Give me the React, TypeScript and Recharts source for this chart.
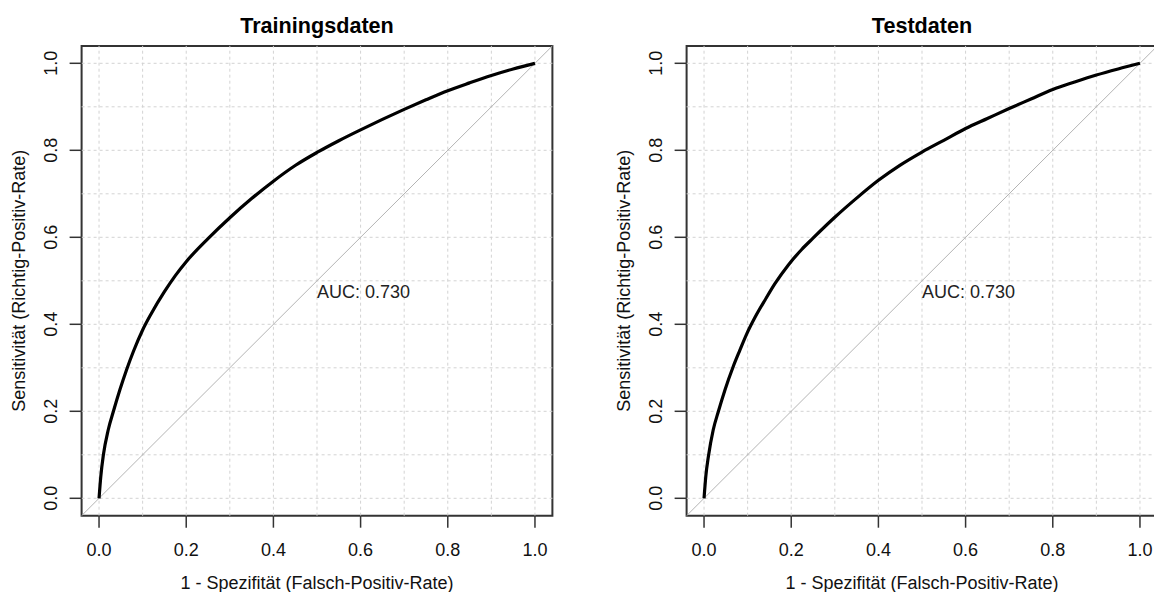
import React from "react";
import {
  LineChart,
  Line,
  XAxis,
  YAxis,
  ReferenceLine,
  ReferenceArea,
  ReferenceDot,
  Customized,
} from "recharts";

// ROC curve, training data (1 - specificity vs. sensitivity)
const trainFpr = [0, 0.004, 0.01, 0.021, 0.033, 0.048, 0.063, 0.079, 0.1, 0.12, 0.15, 0.175, 0.2, 0.25, 0.3, 0.35, 0.4, 0.45, 0.5, 0.55, 0.6, 0.65, 0.7, 0.75, 0.8, 0.85, 0.9, 0.95, 1.0];
const trainTpr = [0, 0.05, 0.1, 0.157, 0.2, 0.25, 0.295, 0.338, 0.387, 0.425, 0.475, 0.512, 0.544, 0.597, 0.645, 0.689, 0.729, 0.765, 0.795, 0.822, 0.847, 0.871, 0.894, 0.916, 0.937, 0.955, 0.972, 0.987, 1.0];

// ROC curve, test data
const testFpr = [0, 0.004, 0.01, 0.021, 0.033, 0.048, 0.067, 0.082, 0.098, 0.117, 0.14, 0.163, 0.193, 0.224, 0.25, 0.3, 0.35, 0.4, 0.45, 0.5, 0.55, 0.6, 0.65, 0.7, 0.75, 0.8, 0.85, 0.9, 0.95, 1.0];
const testTpr = [0, 0.05, 0.096, 0.157, 0.2, 0.249, 0.303, 0.34, 0.378, 0.416, 0.456, 0.494, 0.536, 0.572, 0.598, 0.646, 0.69, 0.731, 0.766, 0.796, 0.823, 0.85, 0.873, 0.896, 0.918, 0.94, 0.957, 0.973, 0.987, 1.0];

const axisTicks = [0, 0.2, 0.4, 0.6, 0.8, 1.0];
const gridValues = [0, 0.1, 0.2, 0.3, 0.4, 0.5, 0.6, 0.7, 0.8, 0.9, 1.0];
const panelTitles = ["Trainingsdaten", "Testdaten"];
const aucLabels = ["AUC: 0.730", "AUC: 0.730"];
const xTitle = "1 - Spezifität (Falsch-Positiv-Rate)";
const yTitle = "Sensitivität (Richtig-Positiv-Rate)";

const FONT = "'Liberation Sans', Arial, Helvetica, sans-serif";
const W = 605;
const H = 592;
const PLOT_LEFT = 81.6;
const PLOT_RIGHT = 552.4;
const PLOT_TOP = 45.9;
const PLOT_BOTTOM = 515.7;
const DOMAIN: [number, number] = [-0.04, 1.04];
const AXIS_COLOR = "#333";

const XTick = (p: any) => (
  <text x={p.x} y={p.y + 28.3} textAnchor="middle" fontSize={18} fontFamily={FONT} fill="#111">
    {Number(p.payload.value).toFixed(1)}
  </text>
);

const YTick = (p: any) => {
  const bx = p.x - 12.6;
  return (
    <text
      x={bx}
      y={p.y}
      transform={`rotate(-90 ${bx} ${p.y})`}
      textAnchor="middle"
      fontSize={18}
      fontFamily={FONT}
      fill="#111"
    >
      {Number(p.payload.value).toFixed(1)}
    </text>
  );
};

const RocPanel = ({ fpr, tpr, title, auc }: { fpr: number[]; tpr: number[]; title: string; auc: string }) => {
  const points = fpr.map((f, i) => ({ fpr: f, tpr: tpr[i] }));
  const cx = (PLOT_LEFT + PLOT_RIGHT) / 2;
  const cy = (PLOT_TOP + PLOT_BOTTOM) / 2;
  return (
    <LineChart
      width={W}
      height={H}
      margin={{ top: PLOT_TOP, right: W - PLOT_RIGHT, bottom: 0, left: 0 }}
    >
      <XAxis
        type="number"
        dataKey="fpr"
        domain={DOMAIN}
        allowDataOverflow
        ticks={axisTicks}
        interval={0}
        height={H - PLOT_BOTTOM}
        tickSize={12}
        tickMargin={0}
        axisLine={false}
        tickLine={{ stroke: AXIS_COLOR, strokeWidth: 1.5 }}
        tick={XTick}
      />
      <YAxis
        type="number"
        dataKey="tpr"
        domain={DOMAIN}
        allowDataOverflow
        ticks={axisTicks}
        interval={0}
        width={PLOT_LEFT}
        tickSize={12}
        tickMargin={0}
        axisLine={false}
        tickLine={{ stroke: AXIS_COLOR, strokeWidth: 1.5 }}
        tick={YTick}
      />
      {gridValues.map((v) => (
        <ReferenceLine key={`gx${v}`} x={v} stroke="#d3d3d3" strokeDasharray="3 3" strokeWidth={1} />
      ))}
      {gridValues.map((v) => (
        <ReferenceLine key={`gy${v}`} y={v} stroke="#d3d3d3" strokeDasharray="3 3" strokeWidth={1} />
      ))}
      <ReferenceLine
        segment={[
          { x: DOMAIN[0], y: DOMAIN[0] },
          { x: DOMAIN[1], y: DOMAIN[1] },
        ]}
        stroke="#b4b4b4"
        strokeWidth={1}
      />
      <Line
        data={points}
        dataKey="tpr"
        type="monotone"
        stroke="#000"
        strokeWidth={3.2}
        strokeLinejoin="round"
        dot={false}
        activeDot={false}
        isAnimationActive={false}
      />
      <ReferenceDot
        x={0.5}
        y={0.5}
        r={0}
        fill="none"
        stroke="none"
        label={{
          content: (lp: any) => {
            const vb = lp.viewBox || {};
            return (
              <text x={vb.x} y={vb.y + 17} fontSize={18} fontFamily={FONT} fill="#222">
                {auc}
              </text>
            );
          },
        }}
      />
      <ReferenceArea
        x1={DOMAIN[0]}
        x2={DOMAIN[1]}
        y1={DOMAIN[0]}
        y2={DOMAIN[1]}
        fill="none"
        fillOpacity={0}
        stroke={AXIS_COLOR}
        strokeWidth={2}
      />
      <Customized
        component={() => (
          <g fontFamily={FONT}>
            <text x={cx} y={33} textAnchor="middle" fontSize={21.6} fontWeight="bold" fill="#000">
              {title}
            </text>
            <text x={cx} y={589} textAnchor="middle" fontSize={18} fill="#111">
              {xTitle}
            </text>
            <text
              x={25}
              y={cy}
              transform={`rotate(-90 25 ${cy})`}
              textAnchor="middle"
              fontSize={18}
              fill="#111"
            >
              {yTitle}
            </text>
          </g>
        )}
      />
    </LineChart>
  );
};

export default function App() {
  return (
    <div
      style={{
        position: "fixed",
        left: 0,
        top: 0,
        width: 1154,
        height: 592,
        overflow: "hidden",
        background: "#fff",
      }}
    >
      <div style={{ position: "absolute", left: 0, top: 0 }}>
        <RocPanel fpr={trainFpr} tpr={trainTpr} title={panelTitles[0]} auc={aucLabels[0]} />
      </div>
      <div style={{ position: "absolute", left: 605, top: 0 }}>
        <RocPanel fpr={testFpr} tpr={testTpr} title={panelTitles[1]} auc={aucLabels[1]} />
      </div>
    </div>
  );
}
